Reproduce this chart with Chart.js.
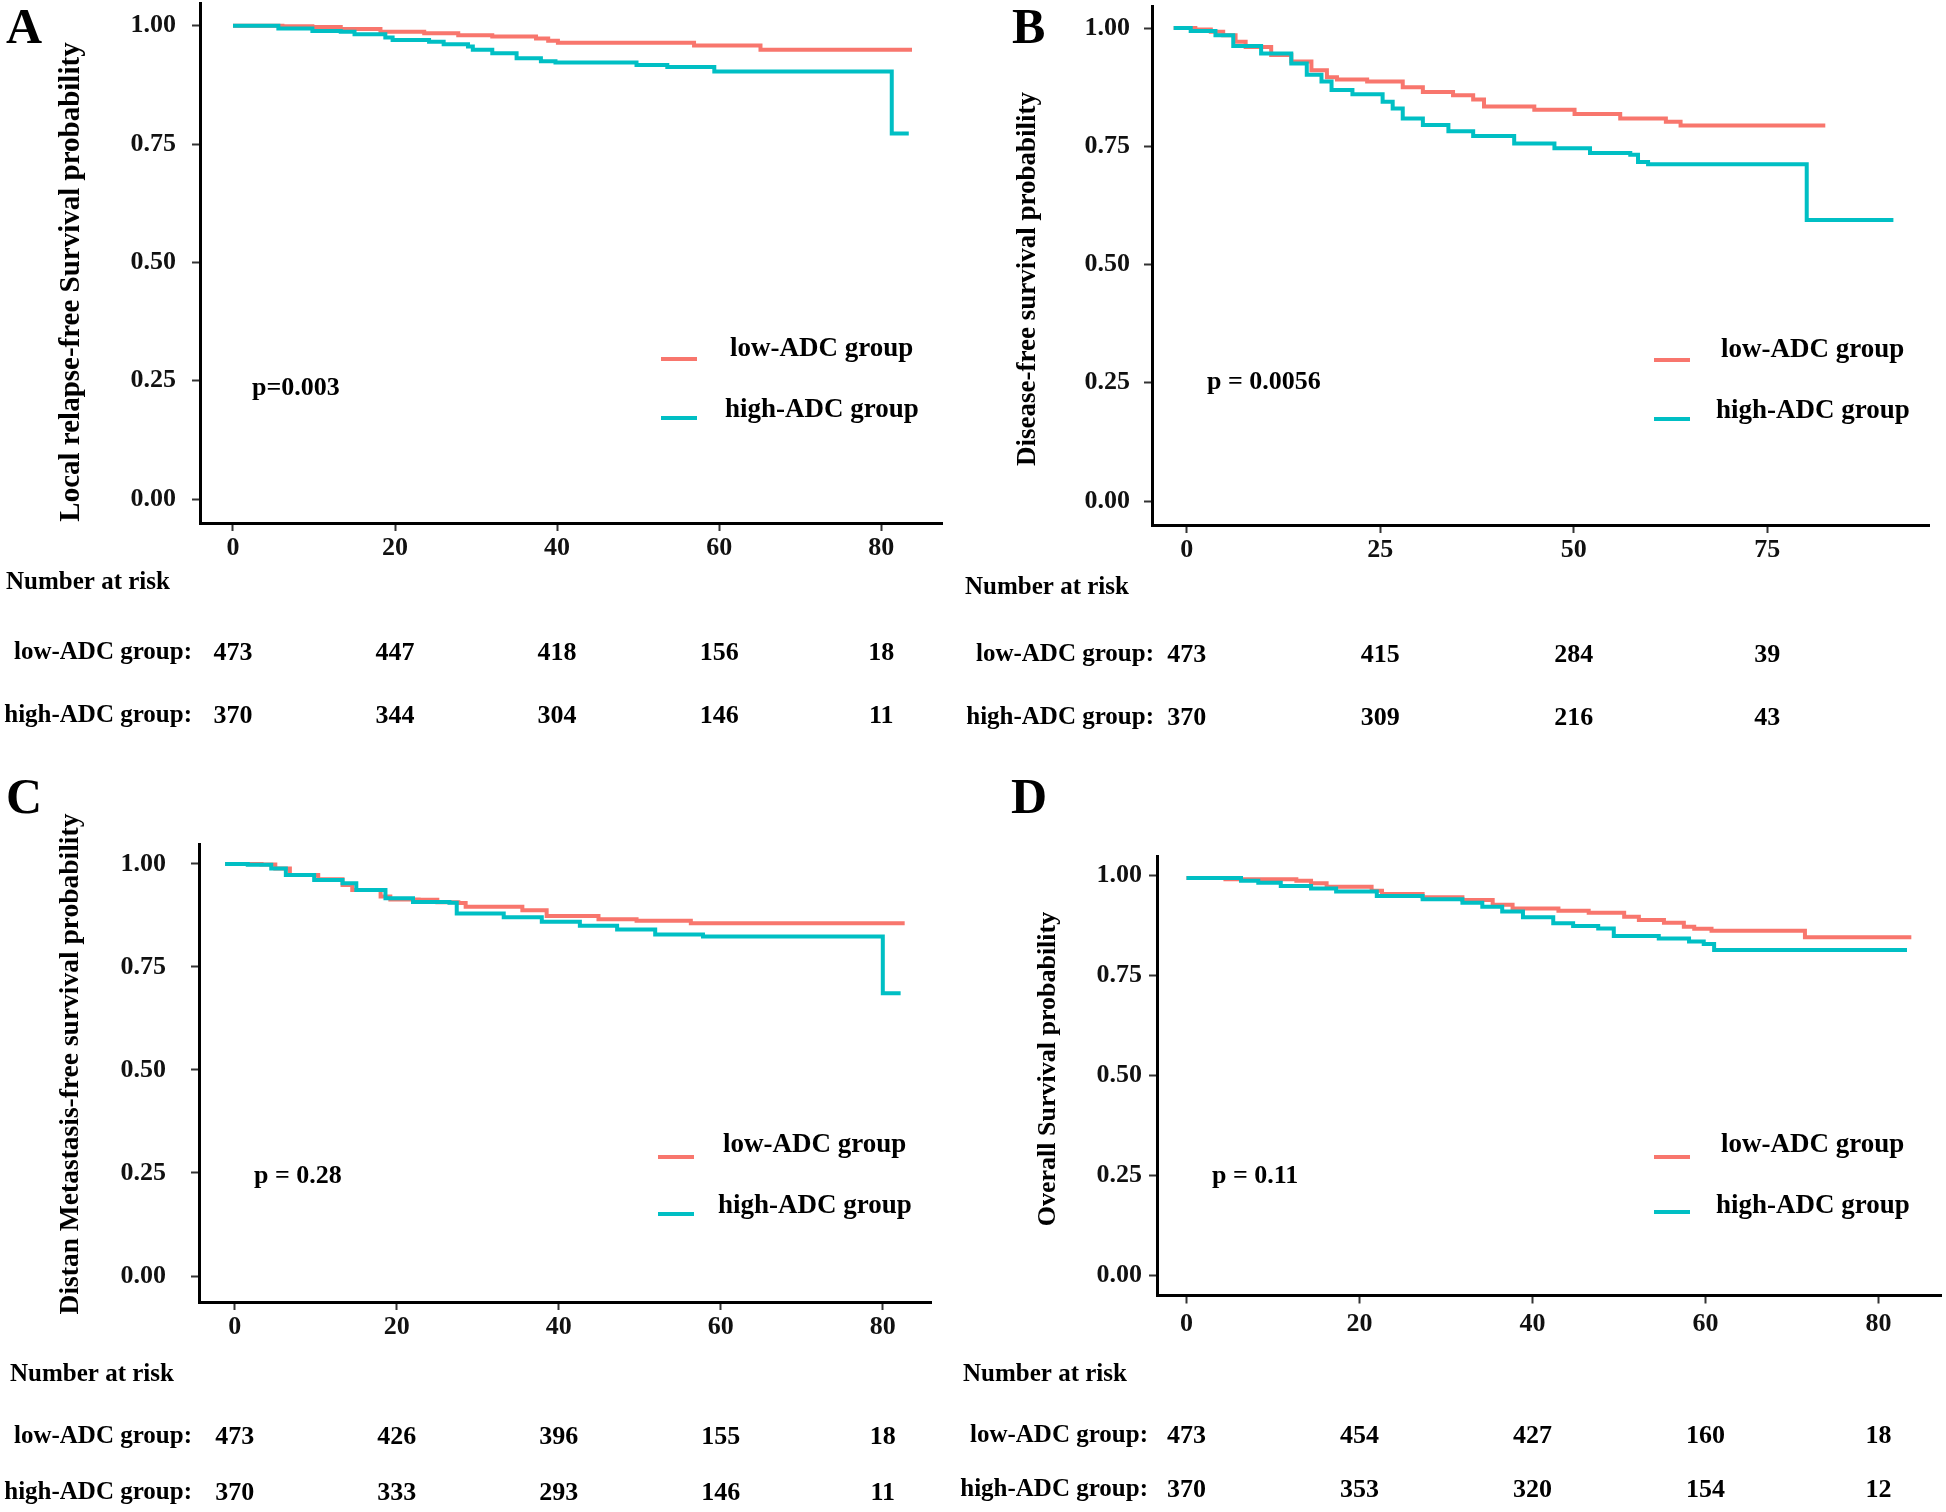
<!DOCTYPE html>
<html>
<head>
<meta charset="utf-8">
<title>Survival curves by ADC group</title>
<script src="https://cdn.jsdelivr.net/npm/chart.js"></script>
<style>
  body { margin: 0; background: #fff; }
  #wrap { position: relative; width: 1946px; height: 1512px; }
  canvas { position: absolute; }
</style>
</head>
<body>
<div id="wrap">
  <canvas id="cA" width="950" height="760" style="left:0;top:0"></canvas>
  <canvas id="cB" width="996" height="760" style="left:950px;top:0"></canvas>
  <canvas id="cC" width="950" height="752" style="left:0;top:760px"></canvas>
  <canvas id="cD" width="996" height="752" style="left:950px;top:760px"></canvas>
</div>
<script>
var SERIF = '"Liberation Serif", "Times New Roman", serif';
var RED = '#F8766D', CYAN = '#00BFC4';
var groups = ['low-ADC group', 'high-ADC group'];
var yTicks = [0, 0.25, 0.5, 0.75, 1];

// A: local relapse-free survival
var aTicks = [0, 20, 40, 60, 80];
var aLowT = [0, 6.1, 9.8, 13.3, 18.2, 23.6, 27.8, 32, 37.4, 38.9, 40.1, 56.9, 65.1, 83.8];
var aLowS = [1, 0.999, 0.997, 0.993, 0.987, 0.984, 0.980, 0.977, 0.973, 0.968, 0.964, 0.958, 0.949, 0.949];
var aHighT = [0, 5.6, 9.8, 13.3, 15, 18.8, 19.7, 24.2, 26, 29, 29.6, 32, 35, 38, 39.8, 49.8, 53.6, 59.4, 81.3, 83.4];
var aHighS = [1, 0.994, 0.989, 0.987, 0.982, 0.975, 0.970, 0.966, 0.961, 0.956, 0.949, 0.942, 0.931, 0.925, 0.922, 0.917, 0.913, 0.903, 0.772, 0.772];
var aRiskLow = [473, 447, 418, 156, 18];
var aRiskHigh = [370, 344, 304, 146, 11];

// B: disease-free survival
var bTicks = [0, 25, 50, 75];
var bLowT = [-1.7, 1.1, 3.1, 4.7, 6.3, 7.6, 10.9, 13.5, 16.1, 18.1, 19.4, 23.3, 27.9, 30.5, 34.4, 37, 38.4, 44.9, 50.1, 56, 61.9, 63.8, 82.5];
var bLowS = [1, 0.997, 0.992, 0.985, 0.971, 0.960, 0.943, 0.929, 0.911, 0.896, 0.891, 0.887, 0.875, 0.865, 0.858, 0.849, 0.834, 0.827, 0.818, 0.809, 0.802, 0.794, 0.794];
var bHighT = [-1.7, 0.5, 3.7, 6, 9.6, 13.5, 15.5, 17.4, 18.7, 21.4, 25.3, 26.6, 27.9, 30.5, 33.8, 37, 42.3, 47.5, 52.1, 57.3, 58.3, 59.6, 80.1, 91.3];
var bHighS = [1, 0.994, 0.985, 0.962, 0.946, 0.925, 0.901, 0.887, 0.869, 0.860, 0.844, 0.830, 0.809, 0.795, 0.782, 0.772, 0.756, 0.746, 0.736, 0.732, 0.717, 0.712, 0.594, 0.594];
var bRiskLow = [473, 415, 284, 39];
var bRiskHigh = [370, 309, 216, 43];

// C: distant metastasis-free survival
var cTicks = [0, 20, 40, 60, 80];
var cLowT = [-1.2, 3.3, 5, 6.8, 10.3, 13.3, 14.5, 18, 19.2, 22.7, 25, 27.6, 28.5, 35.5, 38.5, 44.9, 49.6, 56.3, 82.7];
var cLowS = [1, 0.999, 0.989, 0.973, 0.963, 0.949, 0.937, 0.921, 0.914, 0.913, 0.907, 0.905, 0.896, 0.888, 0.874, 0.866, 0.862, 0.856, 0.856];
var cHighT = [-1.2, 1.6, 4.5, 6.3, 9.8, 13.3, 15, 18.6, 22, 26.5, 27.4, 33.2, 37.9, 42.6, 47.2, 51.9, 57.8, 80, 82.2];
var cHighS = [1, 0.998, 0.989, 0.973, 0.961, 0.953, 0.937, 0.917, 0.908, 0.906, 0.880, 0.871, 0.860, 0.850, 0.841, 0.829, 0.824, 0.686, 0.686];
var cRiskLow = [473, 426, 396, 155, 18];
var cRiskHigh = [370, 333, 293, 146, 11];

// D: overall survival
var dTicks = [0, 20, 40, 60, 80];
var dLowT = [0, 4.5, 12.7, 14.4, 16.2, 21.4, 22.6, 27.3, 31.9, 35.4, 37.7, 43, 46.5, 50.6, 52.3, 55.2, 57.5, 58.7, 60.7, 71.5, 83.8];
var dLowS = [0.993, 0.990, 0.986, 0.980, 0.971, 0.961, 0.953, 0.945, 0.938, 0.926, 0.917, 0.911, 0.906, 0.896, 0.888, 0.881, 0.871, 0.866, 0.861, 0.845, 0.845];
var dHighT = [0, 6.3, 8.3, 10.9, 14.4, 17.3, 22, 27.3, 31.9, 34.2, 36.5, 38.9, 42.4, 44.7, 47.6, 49.4, 54.6, 58.1, 59.8, 61, 83.3];
var dHighS = [0.993, 0.986, 0.981, 0.973, 0.967, 0.959, 0.948, 0.940, 0.931, 0.921, 0.909, 0.895, 0.880, 0.873, 0.867, 0.848, 0.842, 0.834, 0.828, 0.813, 0.813];
var dRiskLow = [473, 454, 427, 160, 18];
var dRiskHigh = [370, 353, 320, 154, 12];

function km(t, s) {
  return t.map(function (v, i) { return { x: v, y: s[i] }; });
}

// draws panel letter, y title, legend, p value and the risk table
var panelText = {
  id: 'panelText',
  afterDraw: function (chart, args, o) {
    var ctx = chart.ctx;
    var xs = chart.scales.x;
    ctx.save();
    ctx.fillStyle = '#000';
    ctx.textAlign = 'left';
    ctx.textBaseline = 'alphabetic';
    ctx.font = 'bold 50px ' + SERIF;
    ctx.fillText(o.letter, o.letterX, o.letterY);

    ctx.save();
    ctx.translate(o.titleX, o.titleY);
    ctx.rotate(-Math.PI / 2);
    ctx.font = 'bold ' + o.titleSize + 'px ' + SERIF;
    ctx.textAlign = 'center';
    ctx.textBaseline = 'middle';
    ctx.fillText(o.title, 0, 0);
    ctx.restore();

    ctx.textBaseline = 'middle';
    [RED, CYAN].forEach(function (col, i) {
      ctx.strokeStyle = col;
      ctx.lineWidth = 4;
      ctx.beginPath();
      ctx.moveTo(o.legX, o.legY[i]);
      ctx.lineTo(o.legX + 36, o.legY[i]);
      ctx.stroke();
      ctx.font = 'bold 27px ' + SERIF;
      ctx.fillText(groups[i], o.legTextX[i], o.legTextY[i]);
    });

    ctx.font = 'bold 26px ' + SERIF;
    ctx.fillText(o.pval, o.pX, o.pY);

    ctx.font = 'bold 25px ' + SERIF;
    ctx.fillText('Number at risk', o.riskHeadX, o.riskHeadY);
    ctx.textAlign = 'right';
    ctx.fillText('low-ADC group:', o.riskLabelX, o.riskY[0]);
    ctx.fillText('high-ADC group:', o.riskLabelX, o.riskY[1]);
    ctx.textAlign = 'center';
    ctx.font = 'bold 26px ' + SERIF;
    o.ticks.forEach(function (t, i) {
      var px = xs.getPixelForValue(t);
      ctx.fillText(String(o.riskLow[i]), px, o.riskY[0]);
      ctx.fillText(String(o.riskHigh[i]), px, o.riskY[1]);
    });
    ctx.restore();
  }
};

function panel(id, p) {
  var tickFont = { family: SERIF, size: 26, weight: 'bold' };
  new Chart(document.getElementById(id), {
    type: 'line',
    data: {
      datasets: [
        { label: groups[0], data: km(p.lowT, p.lowS), borderColor: RED, order: 1 },
        { label: groups[1], data: km(p.highT, p.highS), borderColor: CYAN, order: 0 }
      ]
    },
    options: {
      responsive: false,
      animation: false,
      devicePixelRatio: 1,
      layout: { padding: { left: 0, top: p.top, right: p.W - p.right, bottom: 0 } },
      elements: {
        line: { stepped: 'before', borderWidth: 4, fill: false },
        point: { radius: 0, hoverRadius: 0 }
      },
      plugins: {
        legend: { display: false },
        tooltip: { enabled: false },
        panelText: p
      },
      scales: {
        x: {
          type: 'linear',
          min: p.xmin,
          max: p.xmax,
          afterBuildTicks: function (s) { s.ticks = p.ticks.map(function (v) { return { value: v }; }); },
          afterFit: function (s) { s.height = p.H - p.bottom; s.paddingLeft = 0; s.paddingRight = 0; },
          border: { display: true, color: '#000', width: 3 },
          grid: { drawOnChartArea: false, drawTicks: true, tickLength: 8, tickWidth: 2, color: '#333' },
          ticks: { font: tickFont, color: '#111', padding: p.xPad, maxRotation: 0 }
        },
        y: {
          type: 'linear',
          min: p.ymin,
          max: p.ymax,
          afterBuildTicks: function (s) { s.ticks = yTicks.map(function (v) { return { value: v }; }); },
          afterFit: function (s) { s.width = p.left; s.paddingTop = 0; s.paddingBottom = 0; },
          border: { display: true, color: '#000', width: 3 },
          grid: { drawOnChartArea: false, drawTicks: true, tickLength: 8, tickWidth: 2, color: '#333' },
          ticks: {
            font: tickFont, color: '#111', padding: p.yPad,
            callback: function (v) { return Number(v).toFixed(2); }
          }
        }
      }
    },
    plugins: [panelText]
  });
}

panel('cA', {
  letter: 'A', title: 'Local relapse-free Survival probability', pval: 'p=0.003',
  ticks: aTicks, lowT: aLowT, lowS: aLowS, highT: aHighT, highS: aHighS,
  riskLow: aRiskLow, riskHigh: aRiskHigh,
  W: 950, H: 760, left: 200, right: 942, top: 3.6, bottom: 523,
  xmin: -4.07, xmax: 87.5, ymin: -0.0507, ymax: 1.0467, yPad: 16, xPad: 2,
  letterX: 6, letterY: 43, titleX: 72, titleY: 282, titleSize: 29,
  legX: 661, legY: [359, 418], legTextX: [730, 725], legTextY: [349, 410],
  pX: 252, pY: 388, riskHeadX: 6, riskHeadY: 583, riskLabelX: 192, riskY: [653, 716]
});

panel('cB', {
  letter: 'B', title: 'Disease-free survival probability', pval: 'p = 0.0056',
  ticks: bTicks, lowT: bLowT, lowS: bLowS, highT: bHighT, highS: bHighS,
  riskLow: bRiskLow, riskHigh: bRiskHigh,
  W: 996, H: 760, left: 202, right: 979, top: 6, bottom: 525,
  xmin: -4.5, xmax: 95.9, ymin: -0.0507, ymax: 1.0466, yPad: 14, xPad: 2,
  letterX: 62, letterY: 43, titleX: 78, titleY: 279, titleSize: 27,
  legX: 704, legY: [360, 419], legTextX: [771, 766], legTextY: [350, 411],
  pX: 257, pY: 382, riskHeadX: 15, riskHeadY: 588, riskLabelX: 204, riskY: [655, 718]
});

panel('cC', {
  letter: 'C', title: 'Distan Metastasis-free survival probability', pval: 'p = 0.28',
  ticks: cTicks, lowT: cLowT, lowS: cLowS, highT: cHighT, highS: cHighS,
  riskLow: cRiskLow, riskHigh: cRiskHigh,
  W: 950, H: 752, left: 199, right: 931, top: 84, bottom: 542,
  xmin: -4.42, xmax: 85.95, ymin: -0.0631, ymax: 1.0485, yPad: 25, xPad: 2,
  letterX: 6, letterY: 53, titleX: 71, titleY: 304, titleSize: 27.5,
  legX: 658, legY: [397, 454], legTextX: [723, 718], legTextY: [385, 446],
  pX: 254, pY: 416, riskHeadX: 10, riskHeadY: 615, riskLabelX: 192, riskY: [677, 733]
});

panel('cD', {
  letter: 'D', title: 'Overall Survival probability', pval: 'p = 0.11',
  ticks: dTicks, lowT: dLowT, lowS: dLowS, highT: dHighT, highS: dHighS,
  riskLow: dRiskLow, riskHigh: dRiskHigh,
  W: 996, H: 752, left: 207, right: 991, top: 96, bottom: 535.5,
  xmin: -3.41, xmax: 87.23, ymin: -0.0508, ymax: 1.048, yPad: 7, xPad: 5,
  letterX: 61, letterY: 53, titleX: 98, titleY: 309, titleSize: 26,
  legX: 704, legY: [397, 452], legTextX: [771, 766], legTextY: [385, 446],
  pX: 262, pY: 416, riskHeadX: 13, riskHeadY: 615, riskLabelX: 198, riskY: [676, 730]
});
</script>
</body>
</html>
